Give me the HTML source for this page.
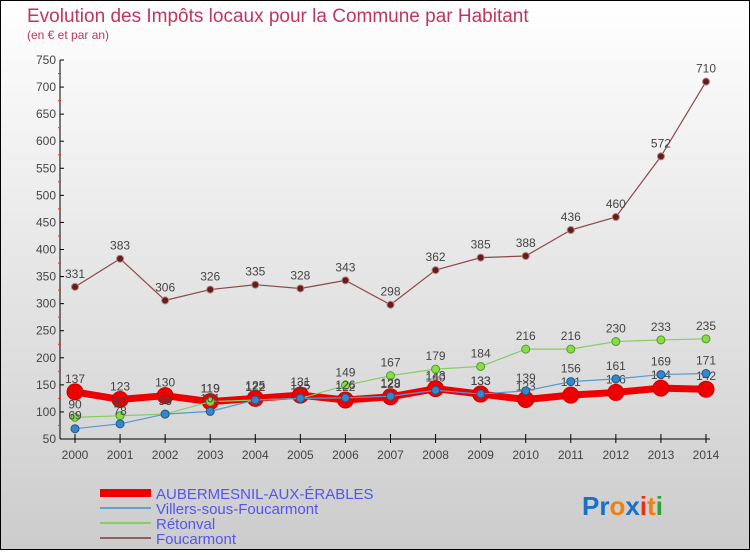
<!DOCTYPE html>
<html><head><meta charset="utf-8"><style>
html,body{margin:0;padding:0;}
body{width:750px;height:550px;overflow:hidden;font-family:"Liberation Sans",sans-serif;}
</style></head><body>
<svg id="chart" width="750" height="550" viewBox="0 0 750 550" xmlns="http://www.w3.org/2000/svg">
<defs><linearGradient id="bg" x1="0" y1="0" x2="0" y2="1"><stop offset="0" stop-color="#ffffff"/><stop offset="1" stop-color="#cccccc"/></linearGradient></defs>
<rect x="0.5" y="0.5" width="749" height="549" fill="url(#bg)" stroke="#000"/>
<text x="27" y="22" font-size="19" fill="#c0365e">Evolution des Impôts locaux pour la Commune par Habitant</text>
<text x="27" y="39" font-size="12" fill="#c0365e">(en € et par an)</text>
<g id="axes"></g>
<g id="series"></g>
<g id="legend">
<rect x="100" y="489" width="51" height="8" fill="#ee0000"/>
<text x="156" y="499" font-size="15" fill="#5555ee">AUBERMESNIL-AUX-ÉRABLES</text>
<rect x="100" y="507" width="51" height="2" fill="#6a9fcc"/>
<text x="156" y="514" font-size="15" fill="#5555ee">Villers-sous-Foucarmont</text>
<rect x="100" y="522" width="51" height="2" fill="#88cc66"/>
<text x="156" y="529" font-size="15" fill="#5555ee">Rétonval</text>
<rect x="100" y="537" width="51" height="2" fill="#8a6060"/>
<text x="156" y="544" font-size="15" fill="#5555ee">Foucarmont</text>
</g>
<g font-size="26" font-weight="bold">
<text x="582" y="515"><tspan fill="#1a6fc8">Pr</tspan><tspan fill="#f08010">o</tspan><tspan fill="#1a6fc8">x</tspan><tspan fill="#e83010">i</tspan><tspan fill="#f08010">t</tspan><tspan fill="#30a030">i</tspan></text>
</g>
</svg>
<script>
const years=[2000,2001,2002,2003,2004,2005,2006,2007,2008,2009,2010,2011,2012,2013,2014];
const yTicks=[50,100,150,200,250,300,350,400,450,500,550,600,650,700,750];
const aubermesnil=[137,123,130,119,125,131,122,128,143,133,123,131,136,144,142];
const villers=[69,78,96,101,122,125,126,129,140,133,139,156,161,169,171];
const retonval=[90,93,96,119,122,125,149,167,179,184,216,216,230,233,235];
const foucarmont=[331,383,306,326,335,328,343,298,362,385,388,436,460,572,710];
const NS="http://www.w3.org/2000/svg";
function X(i){return 75+i*(706-75)/(years.length-1);}
function Y(v){return 439-(v-50)*(439-60)/700;}
function mk(t,a,p){const e=document.createElementNS(NS,t);for(const k in a)e.setAttribute(k,a[k]);p.appendChild(e);return e;}
const ax=document.getElementById('axes');
const yl=mk('line',{x1:60,y1:60,x2:60,y2:439,stroke:'#000'},ax);


const xl=mk('line',{x1:60,y1:439,x2:710,y2:439,stroke:'#000'},ax);


yTicks.forEach(v=>{
 mk('line',{x1:60,y1:Y(v),x2:64,y2:Y(v),stroke:'#000'},ax);
 if(v<750)mk('line',{x1:58,y1:Y(v+25),x2:61,y2:Y(v+25),stroke:'#ee3333'},ax);
 const t=mk('text',{x:56,y:Y(v)+4,'text-anchor':'end','font-size':12,fill:'#444'},ax);
 
 
 t.textContent=v;
});
years.forEach((yr,i)=>{
 mk('line',{x1:X(i),y1:434,x2:X(i),y2:443,stroke:'#000'},ax);
 const t=mk('text',{x:X(i),y:459,'text-anchor':'middle','font-size':12,fill:'#444'},ax);
 
 
 t.textContent=yr;
});
const sg=document.getElementById('series');
function series(name,data,color,w,r,fill,stroke){
 const g=mk('g',{},sg);
 
 
 const p=mk('polyline',{points:data.map((v,i)=>X(i)+','+Y(v)).join(' '),fill:'none',stroke:color,'stroke-width':w,'stroke-linejoin':'round'},g);
 
 
 data.forEach((v,i)=>{
  const c=mk('circle',{cx:X(i),cy:Y(v),r:r,fill:fill,stroke:stroke,'stroke-width':1},g);
  
  
  const t=mk('text',{x:X(i),y:Y(v)-9,'text-anchor':'middle','font-size':12,fill:'#444'},g);
  
  
  t.textContent=v;
 });
}
series('foucarmont',foucarmont,'#8a4a4a',1.2,3.5,'#6a1a1a','#aa8888');
series('aubermesnil',aubermesnil,'#ee0000',7,8,'#ee0000','#cc0000');
series('retonval',retonval,'#88cc66',1.2,4,'#88dd44','#559933');
series('villers',villers,'#5599cc',1.2,4,'#3388cc','#225588');
</script>
</body></html>
